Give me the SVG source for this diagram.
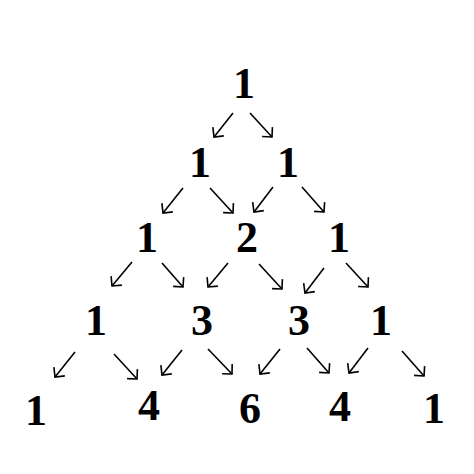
<svg xmlns="http://www.w3.org/2000/svg" width="474" height="474" viewBox="0 0 474 474">
<style>
text{font-family:"Liberation Serif","Times New Roman",serif;font-size:44px;font-weight:bold;text-anchor:middle;fill:#000}
.c path{stroke:#000;stroke-width:1.6;fill:none;marker-end:url(#ah)}
</style>
<defs>
<marker id="ah" markerUnits="userSpaceOnUse" markerWidth="20" markerHeight="20" viewBox="-10 -10 20 20" refX="0" refY="0" orient="auto">
<path d="M-7,-7 L0,0 L-7,7" stroke="#000" stroke-width="1.6" fill="none"/>
</marker>
</defs>
<rect width="474" height="474" fill="#fff"/>
<g id="n0"><text x="244" y="98">1</text></g>
<g id="n1a"><text x="200" y="177">1</text></g>
<g id="n1b"><text x="288" y="177">1</text></g>
<g id="n2a"><text x="147" y="252">1</text></g>
<g id="n2b"><text x="247" y="252">2</text></g>
<g id="n2c"><text x="339" y="252">1</text></g>
<g id="n3a"><text x="96" y="335">1</text></g>
<g id="n3b"><text x="202" y="335">3</text></g>
<g id="n3c"><text x="299" y="335">3</text></g>
<g id="n3d"><text x="381" y="335">1</text></g>
<g id="n4a"><text x="36" y="425">1</text></g>
<g id="n4b"><text x="149" y="420">4</text></g>
<g id="n4c"><text x="250" y="423">6</text></g>
<g id="n4d"><text x="340" y="421">4</text></g>
<g id="n4e"><text x="434" y="423">1</text></g>
<g id="connectors" class="c">
<path d="M233,113 L214,137"/>
<path d="M250,113 L272,137"/>
<path d="M183,188 L163,213"/>
<path d="M210,188 L233,213"/>
<path d="M273,187 L254,212"/>
<path d="M302,187 L324,212"/>
<path d="M132,262 L112,286"/>
<path d="M162,263 L183,287"/>
<path d="M228,263 L208,287"/>
<path d="M259,264 L282,289"/>
<path d="M324,268 L305,293"/>
<path d="M346,263 L368,287"/>
<path d="M75,352 L55,377"/>
<path d="M114,354 L137,379"/>
<path d="M182,350 L162,375"/>
<path d="M208,349 L232,374"/>
<path d="M280,349 L260,374"/>
<path d="M307,348 L329,373"/>
<path d="M368,348 L349,373"/>
<path d="M402,351 L424,376"/>
</g>
</svg>
